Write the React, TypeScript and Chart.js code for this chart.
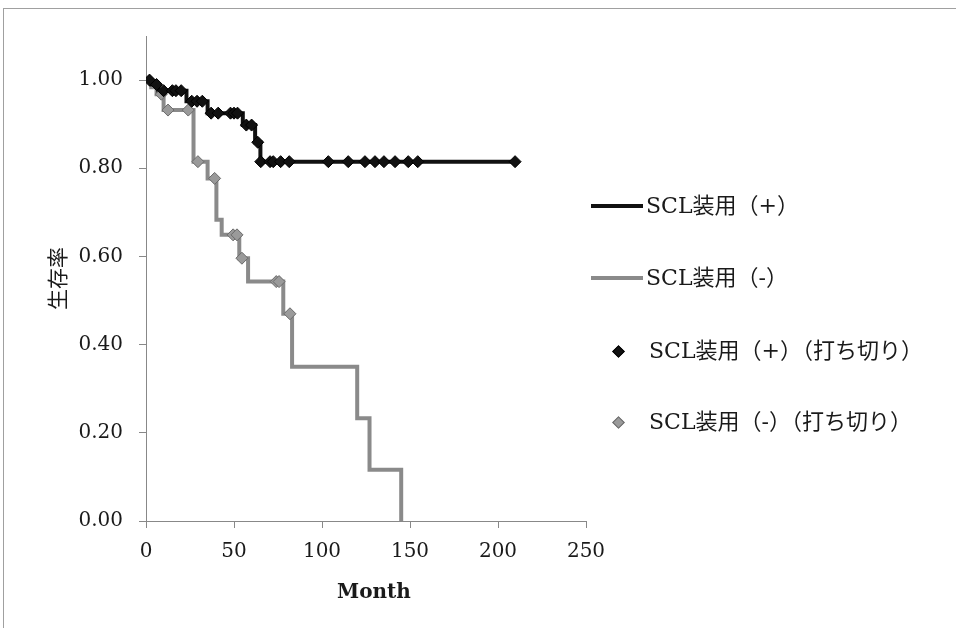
import React, { useEffect, useRef } from "react";
import { Chart, registerables } from "chart.js";

Chart.register(...registerables);

// Axis ticks
const xTicks = [0, 50, 100, 150, 200, 250];
const yTicks = [0, 0.2, 0.4, 0.6, 0.8, 1.0];

// Kaplan-Meier curve: SCL装用 (+)
const plusTimes = [0, 3, 7, 23, 35, 55, 62, 65, 210];
const plusSurv = [1.0, 0.99, 0.976, 0.952, 0.925, 0.898, 0.859, 0.815, 0.815];

// Kaplan-Meier curve: SCL装用 (-)
const minusTimes = [0, 3, 6, 10, 27, 35, 40, 43, 53, 58, 78, 83, 120, 127, 145];
const minusSurv = [1.0, 0.984, 0.968, 0.932, 0.815, 0.777, 0.683, 0.649, 0.596, 0.543, 0.47, 0.35, 0.233, 0.116, 0];

// Censored points (打ち切り): SCL装用 (+)
const plusCensorTimes = [2, 6, 10, 15, 17, 20, 26, 29, 32, 37, 41, 48, 50, 52, 57, 60, 63.5, 65.2, 70.5, 72.3, 76.5, 81.4, 103.6, 114.9, 124.4, 130.1, 135.2, 141.5, 149, 154.4, 209.7];
const plusCensorSurv = [1.0, 0.99, 0.976, 0.976, 0.976, 0.976, 0.952, 0.952, 0.952, 0.925, 0.925, 0.925, 0.925, 0.925, 0.898, 0.898, 0.859, 0.815, 0.815, 0.815, 0.815, 0.815, 0.815, 0.815, 0.815, 0.815, 0.815, 0.815, 0.815, 0.815, 0.815];

// Censored points (打ち切り): SCL装用 (-)
const minusCensorTimes = [8.7, 12.5, 24, 29.5, 39, 49.5, 51.7, 54.5, 74, 75.6, 81.8];
const minusCensorSurv = [0.968, 0.932, 0.932, 0.815, 0.777, 0.649, 0.649, 0.596, 0.543, 0.543, 0.47];

const legendLabels = ["SCL装用（+）", "SCL装用（-）", "SCL装用（+）（打ち切り）", "SCL装用（-）（打ち切り）"];
const xTitle = "Month";
const yTitle = "生存率";

const zip = (xs: number[], ys: number[]) => xs.map((x, i) => ({ x, y: ys[i] }));

const SERIF = "'DejaVu Serif', 'Noto Sans CJK JP', serif";
const TEXT = "#1a1a1a";

export default function App() {
  const canvasRef = useRef<HTMLCanvasElement | null>(null);

  useEffect(() => {
    const canvas = canvasRef.current;
    if (!canvas) return;
    const chart = new Chart(canvas, {
      type: "scatter",
      data: {
        datasets: [
          {
            label: legendLabels[2],
            data: zip(plusCensorTimes, plusCensorSurv),
            pointStyle: "rectRot",
            pointRadius: 6,
            backgroundColor: "#111111",
            borderColor: "#000000",
            borderWidth: 1,
            showLine: false,
            order: 0,
          },
          {
            label: legendLabels[3],
            data: zip(minusCensorTimes, minusCensorSurv),
            pointStyle: "rectRot",
            pointRadius: 6,
            backgroundColor: "#9a9a9a",
            borderColor: "#6a6a6a",
            borderWidth: 1,
            showLine: false,
            order: 0,
          },
          {
            label: legendLabels[0],
            data: zip(plusTimes, plusSurv),
            showLine: true,
            stepped: "before",
            borderColor: "#111111",
            borderWidth: 4,
            pointRadius: 0,
            fill: false,
            order: 1,
          },
          {
            label: legendLabels[1],
            data: zip(minusTimes, minusSurv),
            showLine: true,
            stepped: "before",
            borderColor: "#8a8a8a",
            borderWidth: 4,
            pointRadius: 0,
            fill: false,
            order: 2,
          },
        ],
      },
      options: {
        responsive: false,
        animation: false,
        layout: { padding: { left: 0, top: 36, right: 370, bottom: 0 } },
        plugins: {
          legend: { display: false },
          tooltip: { enabled: false },
        },
        scales: {
          x: {
            type: "linear",
            min: 0,
            max: 250,
            afterBuildTicks: (s: any) => {
              s.ticks = xTicks.map((v) => ({ value: v }));
            },
            afterFit: (s: any) => {
              s.height = 107;
            },
            ticks: {
              font: { family: SERIF, size: 20 },
              color: TEXT,
              padding: 12,
              maxRotation: 0,
            },
            grid: {
              drawOnChartArea: false,
              drawTicks: true,
              tickLength: 7,
              color: "#888888",
            },
            border: { color: "#888888", width: 1 },
          },
          y: {
            type: "linear",
            min: 0,
            max: 1.1,
            afterBuildTicks: (s: any) => {
              s.ticks = yTicks.map((v) => ({ value: v }));
            },
            afterFit: (s: any) => {
              s.width = 146;
            },
            ticks: {
              font: { family: SERIF, size: 20 },
              color: TEXT,
              padding: 16,
              callback: (v: any) => Number(v).toFixed(2),
            },
            grid: {
              drawOnChartArea: false,
              drawTicks: true,
              tickLength: 7,
              color: "#888888",
            },
            border: { color: "#888888", width: 1 },
            title: {
              display: true,
              text: yTitle,
              color: TEXT,
              font: { family: "'Noto Sans CJK JP', sans-serif", size: 21 },
              padding: { top: 44, bottom: 0 },
            },
          },
        },
      },
    });
    return () => chart.destroy();
  }, []);

  const legendRows = [
    { cy: 206, kind: "line", color: "#111111", textLeft: 646 },
    { cy: 278, kind: "line", color: "#8a8a8a", textLeft: 646 },
    { cy: 351, kind: "diamond", color: "#111111", textLeft: 649 },
    { cy: 422, kind: "diamond", color: "#9a9a9a", textLeft: 649 },
  ];

  return (
    <div
      style={{
        position: "fixed",
        left: 0,
        top: 0,
        width: 956,
        height: 628,
        background: "#ffffff",
        overflow: "hidden",
      }}
    >
      <div
        style={{
          position: "absolute",
          left: 3,
          top: 8,
          width: 953,
          height: 620,
          borderLeft: "1px solid #a0a0a0",
          borderTop: "1px solid #a0a0a0",
          boxSizing: "border-box",
        }}
      />
      <canvas ref={canvasRef} width={956} height={628} style={{ position: "absolute", left: 0, top: 0, width: 956, height: 628 }} />
      <div
        style={{
          position: "absolute",
          left: 374,
          top: 591,
          transform: "translate(-50%, -50%)",
          fontFamily: SERIF,
          fontWeight: "bold",
          fontSize: 20,
          color: TEXT,
          whiteSpace: "nowrap",
        }}
      >
        {xTitle}
      </div>
      {legendRows.map((r, i) => (
        <React.Fragment key={i}>
          {r.kind === "line" ? (
            <div
              style={{
                position: "absolute",
                left: 591,
                top: r.cy - 2,
                width: 52,
                height: 4,
                background: r.color,
              }}
            />
          ) : (
            <div
              style={{
                position: "absolute",
                left: 618 - 4.5,
                top: r.cy - 4.5,
                width: 9,
                height: 9,
                background: r.color,
                border: i === 2 ? "1px solid #000" : "1px solid #6a6a6a",
                boxSizing: "border-box",
                transform: "rotate(45deg)",
              }}
            />
          )}
          <div
            style={{
              position: "absolute",
              left: r.textLeft,
              top: r.cy - 15,
              height: 30,
              lineHeight: "30px",
              fontFamily: SERIF,
              fontSize: 22,
              color: TEXT,
              whiteSpace: "nowrap",
            }}
          >
            {legendLabels[i]}
          </div>
        </React.Fragment>
      ))}
    </div>
  );
}
